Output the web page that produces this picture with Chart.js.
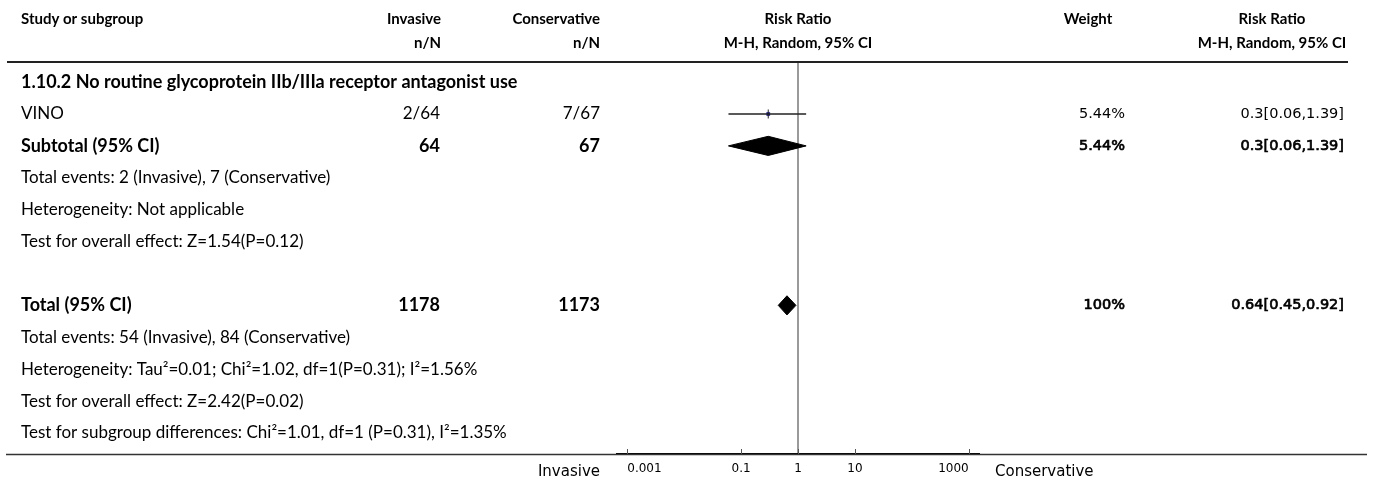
<!DOCTYPE html>
<html>
<head>
<meta charset="utf-8">
<script src="https://cdn.jsdelivr.net/npm/chart.js@4.4.1/dist/chart.umd.min.js"></script>
<style>
  html, body { margin: 0; padding: 0; background: #fff; }
  #wrap { position: relative; width: 1375px; height: 484px; }
</style>
</head>
<body>
<div id="wrap"><canvas id="forest"></canvas></div>
<script>
// left column, one entry per row of the plot
const rowLabels = [
  '1.10.2 No routine glycoprotein IIb/IIIa receptor antagonist use',
  'VINO',
  'Subtotal (95% CI)',
  'Total events: 2 (Invasive), 7 (Conservative)',
  'Heterogeneity: Not applicable',
  'Test for overall effect: Z=1.54(P=0.12)',
  '',
  'Total (95% CI)',
  'Total events: 54 (Invasive), 84 (Conservative)',
  'Heterogeneity: Tau²=0.01; Chi²=1.02, df=1(P=0.31); I²=1.56%',
  'Test for overall effect: Z=2.42(P=0.02)',
  'Test for subgroup differences: Chi²=1.01, df=1 (P=0.31), I²=1.35%'
];
const boldRows = [0, 2, 7];
const invasiveCol = ['', '2/64', '64', '', '', '', '', '1178', '', '', '', ''];
const conservativeCol = ['', '7/67', '67', '', '', '', '', '1173', '', '', '', ''];
const weightCol = ['', '5.44%', '5.44%', '', '', '', '', '100%', '', '', '', ''];
const ciCol = ['', '0.3[0.06,1.39]', '0.3[0.06,1.39]', '', '', '', '', '0.64[0.45,0.92]', '', '', '', ''];

// single studies
const studyRows = [1];
const studyRR = [0.3];
const studyLow = [0.06];
const studyHigh = [1.39];

// pooled results (diamonds)
const pooledRows = [2, 7];
const pooledRR = [0.3, 0.64];
const pooledLow = [0.06, 0.45];
const pooledHigh = [1.39, 0.92];

// axis
const tickValues = [0.001, 0.1, 1, 10, 1000];
const tickLabels = ['0.001', '0.1', '1', '10', '1000'];

const TEXT_FONT = 'Lato, "Noto Sans", sans-serif';
const NUM_FONT = '"DejaVu Sans", sans-serif';
const DIAMOND_H = 0.3;

const datasets = [];

// confidence intervals
studyRows.forEach((r, i) => {
  datasets.push({
    type: 'line',
    data: [{ x: studyLow[i], y: r }, { x: studyHigh[i], y: r }],
    borderColor: '#222',
    borderWidth: 1.5,
    pointRadius: 0
  });
});

// whisker + square for each study
datasets.push({
  type: 'scatter',
  data: studyRows.map((r, i) => ({ x: studyRR[i], y: r })),
  pointStyle: 'line',
  rotation: 90,
  pointRadius: 4.5,
  borderColor: '#222',
  borderWidth: 1
});
datasets.push({
  type: 'scatter',
  data: studyRows.map((r, i) => ({ x: studyRR[i], y: r })),
  pointStyle: 'rect',
  pointRadius: 2.2,
  backgroundColor: '#00008b',
  borderColor: '#00008b',
  borderWidth: 0.5
});

// diamonds
pooledRows.forEach((r, i) => {
  datasets.push({
    type: 'line',
    data: [
      { x: pooledLow[i], y: r },
      { x: pooledRR[i], y: r - DIAMOND_H },
      { x: pooledHigh[i], y: r },
      { x: pooledRR[i], y: r + DIAMOND_H },
      { x: pooledLow[i], y: r }
    ],
    borderColor: '#000',
    backgroundColor: '#000',
    borderWidth: 1,
    pointRadius: 0,
    tension: 0,
    fill: 'shape'
  });
});

const forestText = {
  id: 'forestText',
  beforeDatasetsDraw(chart) {
    const ctx = chart.ctx;
    const area = chart.chartArea;
    // full width rule at the bottom and header rule
    ctx.save();
    ctx.strokeStyle = '#333';
    ctx.lineWidth = 1.5;
    ctx.beginPath();
    ctx.moveTo(6, area.bottom + 0.5);
    ctx.lineTo(1367, area.bottom + 0.5);
    ctx.stroke();
    ctx.strokeStyle = '#222';
    ctx.lineWidth = 2;
    ctx.beginPath();
    ctx.moveTo(7, area.top);
    ctx.lineTo(1348, area.top);
    ctx.stroke();
    ctx.restore();
  },
  afterDraw(chart) {
    const ctx = chart.ctx;
    const area = chart.chartArea;
    const xs = chart.scales.x;
    const ys = chart.scales.y;
    const mid = xs.getPixelForValue(1);
    ctx.save();
    ctx.fillStyle = '#000';
    ctx.textBaseline = 'middle';

    // headers
    ctx.font = 'bold 15px ' + TEXT_FONT;
    ctx.textAlign = 'left';
    ctx.fillText('Study or subgroup', 21, 19);
    ctx.textAlign = 'right';
    ctx.fillText('Invasive', 441, 19);
    ctx.fillText('n/N', 441, 43);
    ctx.fillText('Conservative', 600, 19);
    ctx.fillText('n/N', 600, 43);
    ctx.textAlign = 'center';
    ctx.fillText('Risk Ratio', mid, 19);
    ctx.fillText('M-H, Random, 95% CI', mid, 43);
    ctx.fillText('Weight', 1088, 19);
    ctx.fillText('Risk Ratio', 1272, 19);
    ctx.fillText('M-H, Random, 95% CI', 1272, 43);

    // rows
    rowLabels.forEach((label, i) => {
      const y = ys.getPixelForValue(i);
      const bold = boldRows.includes(i);
      ctx.font = bold ? 'bold 18px ' + TEXT_FONT : '17px ' + TEXT_FONT;
      ctx.textAlign = 'left';
      ctx.fillText(label, 21, y);
      ctx.textAlign = 'right';
      ctx.fillText(invasiveCol[i], 440, y);
      ctx.fillText(conservativeCol[i], 600, y);
      ctx.font = '14.5px ' + NUM_FONT;
      ctx.fillText(weightCol[i], 1125, y);
      ctx.fillText(ciCol[i], 1344, y);
      if (bold) {
        ctx.strokeStyle = '#000';
        ctx.lineWidth = 0.7;
        ctx.strokeText(weightCol[i], 1125, y);
        ctx.strokeText(ciCol[i], 1344, y);
      }
    });

    // small upward ticks on the axis
    ctx.strokeStyle = '#555';
    ctx.lineWidth = 1;
    xs.ticks.forEach(t => {
      const px = Math.round(xs.getPixelForValue(t.value)) + 0.5;
      ctx.beginPath();
      ctx.moveTo(px, area.bottom);
      ctx.lineTo(px, area.bottom - 5);
      ctx.stroke();
    });

    // favours labels
    ctx.font = '15px ' + NUM_FONT;
    ctx.textAlign = 'right';
    ctx.fillText('Invasive', area.left - 17, 472);
    ctx.textAlign = 'left';
    ctx.fillText('Conservative', area.right + 16, 472);
    ctx.restore();
  }
};

new Chart(document.getElementById('forest'), {
  data: { datasets: datasets },
  options: {
    responsive: true,
    maintainAspectRatio: false,
    animation: false,
    layout: { padding: { left: 617, right: 396, top: 62, bottom: 0 } },
    plugins: {
      legend: { display: false },
      tooltip: { enabled: false }
    },
    scales: {
      x: {
        type: 'logarithmic',
        min: 0.00066,
        max: 1515,
        afterBuildTicks: s => { s.ticks = tickValues.map(v => ({ value: v })); },
        afterFit: s => { s.height = 30; s.paddingLeft = 0; s.paddingRight = 0; },
        ticks: {
          autoSkip: false,
          maxRotation: 0,
          align: 'inner',
          padding: 8,
          color: '#000',
          font: { family: 'DejaVu Sans', size: 12 },
          callback: (v, i) => tickLabels[i]
        },
        grid: {
          drawTicks: false,
          lineWidth: 2,
          color: c => (c.tick && c.tick.value === 1 ? '#9a9a9a' : 'rgba(0,0,0,0)')
        },
        border: { display: true, color: '#000', width: 2 }
      },
      y: {
        type: 'linear',
        display: false,
        reverse: true,
        min: -0.63,
        max: 11.66
      }
    }
  },
  plugins: [forestText]
});
</script>
</body>
</html>
